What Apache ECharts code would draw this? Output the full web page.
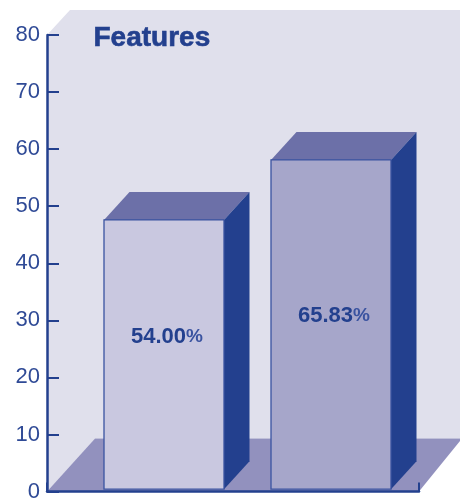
<!DOCTYPE html>
<html><head><meta charset="utf-8">
<style>html,body{margin:0;padding:0;background:#fff}#c{width:460px;height:498px}</style>
<script src="https://cdn.jsdelivr.net/npm/echarts@6/dist/echarts.min.js"></script>
</head><body><div id="c"></div>
<script>
const categories = ['A', 'B'];
const barHeights = [47.6, 58.1];
const barLabels = ['54.00', '65.83'];
const labelLevels = [27.05, 30.75];
const barFronts = ['#c9c8e0', '#a6a6ca'];
const yTicks = [0, 80, 10];
const titleText = 'Features';

const INK = '#23408e', WALL = '#e0e0ec', FLOOR = '#9291be', TOP = '#6c70a8';
const BAR_BASE = 0.4, BAR_W = 120, DX = 25.5, DY = 28;
const chart = echarts.init(document.getElementById('c'), null, {renderer: 'canvas'});

function poly(points, fill, extra) {
  return Object.assign({type: 'polygon', shape: {points}, style: {fill, stroke: null}}, extra || {});
}
function renderRoom(params, api) {
  const o = api.coord([0, 0]), t = api.coord([1, 80]);
  const fx = 48, fy = 53, wx = 23, wy = 25;
  const right = 460;
  const floorY = o[1] - fy;
  return {type: 'group', children: [
    poly([[o[0], t[1]], [o[0] + wx, t[1] - wy], [right, t[1] - wy], [right, floorY], [o[0] + fx, floorY], [o[0], o[1]]], WALL),
    poly([[o[0], o[1]], [o[0] + fx, floorY], [t[0] + fx - 5, floorY], [t[0], o[1]]], FLOOR)
  ]};
}
function renderBar(params, api) {
  const i = params.dataIndex;
  const c = api.coord([api.value(0), api.value(1)]);
  const b = api.coord([api.value(0), BAR_BASE]);
  const l = c[0] - BAR_W / 2, r = c[0] + BAR_W / 2, top = c[1], bot = b[1];
  const lab = api.coord([api.value(0), labelLevels[i]]);
  return {type: 'group', children: [
    poly([[l, top], [l + DX, top - DY], [r + DX, top - DY], [r, top]], TOP),
    poly([[r, top], [r + DX, top - DY], [r + DX, bot - DY], [r, bot]], INK),
    {type: 'rect', shape: {x: l, y: top, width: BAR_W, height: bot - top},
     style: {fill: barFronts[i], stroke: '#3a53a0', lineWidth: 1.3}},
    {type: 'text', x: lab[0] + 3, y: lab[1], style: {
      rich: {n: {fontFamily: 'Liberation Sans', fontWeight: 'bold', fontSize: 22, fill: INK},
             p: {fontFamily: 'Liberation Sans', fontWeight: 'bold', fontSize: 19, fill: '#3a53a0'}},
      text: '{n|' + barLabels[i] + '}{p|%}', align: 'center', verticalAlign: 'middle'}}
  ]};
}
chart.setOption({
  animation: false,
  backgroundColor: '#fff',
  title: {text: titleText, left: 93.5, top: 24, padding: 0,
    textStyle: {fontFamily: 'Liberation Sans', fontWeight: 'bold', fontSize: 28, color: INK,
      textBorderColor: INK, textBorderWidth: 0.6}},
  grid: [
    {left: 47, top: 35, width: 372, height: 456.5, outerBoundsMode: 'none'},
    {left: 80.5, top: 35, width: 334, height: 456.5, outerBoundsMode: 'none'}
  ],
  xAxis: [
    {gridIndex: 0, type: 'value', min: 0, max: 1, interval: 1,
     axisLine: {show: true, lineStyle: {color: INK, width: 2.5}},
     axisTick: {show: true, inside: true, length: 9, lineStyle: {color: INK, width: 2}},
     axisLabel: {show: false}, splitLine: {show: false}},
    {gridIndex: 1, type: 'category', data: categories, show: false}
  ],
  yAxis: [
    {gridIndex: 0, type: 'value', min: yTicks[0], max: yTicks[1], interval: yTicks[2],
     axisLine: {show: true, lineStyle: {color: INK, width: 2.5}},
     axisTick: {show: true, inside: true, length: 12, lineStyle: {color: INK, width: 2}},
     axisLabel: {fontFamily: 'Liberation Sans', fontSize: 22, color: '#2f4a96', margin: 7, padding: [3, 0, 0, 0]},
     splitLine: {show: false}},
    {gridIndex: 1, type: 'value', min: yTicks[0], max: yTicks[1], show: false}
  ],
  series: [
    {type: 'custom', xAxisIndex: 0, yAxisIndex: 0, z: -1, silent: true, clip: false,
     data: [[0, 0]], renderItem: renderRoom},
    {type: 'custom', xAxisIndex: 1, yAxisIndex: 1, z: 3, clip: false,
     data: categories.map((c, i) => [i, barHeights[i]]),
     encode: {x: 0, y: 1}, renderItem: renderBar}
  ]
});
</script></body></html>
